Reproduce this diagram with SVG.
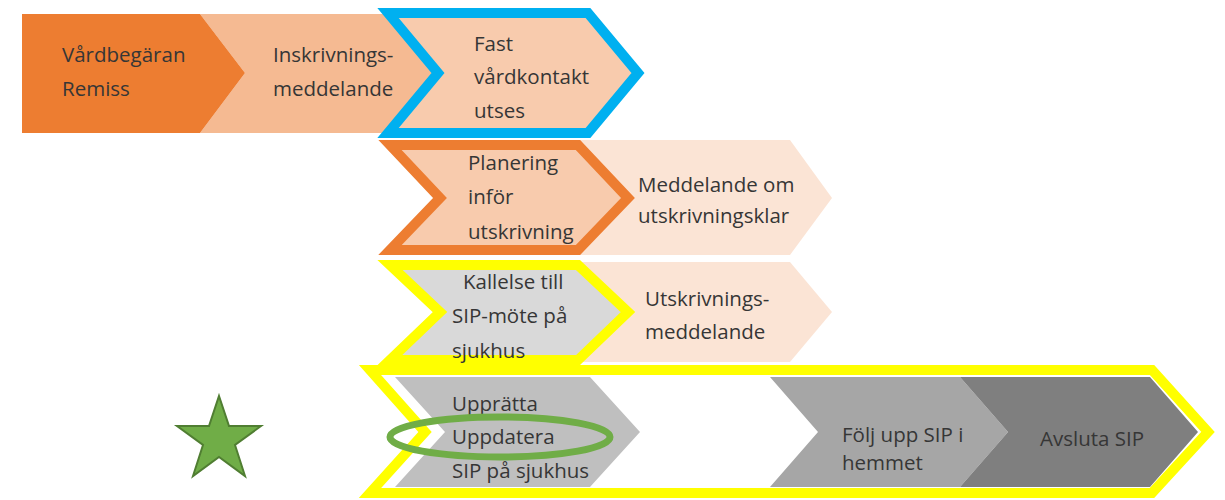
<svg xmlns="http://www.w3.org/2000/svg" width="1225" height="500" viewBox="0 0 1225 500">
<style>
text{font-family:"Open Sans","Liberation Sans",sans-serif;font-size:20.5px;fill:#363636}
.hl{stroke-width:10;stroke-linejoin:miter;stroke-miterlimit:10}
</style>
<rect width="1225" height="500" fill="#ffffff"/>
<g id="n-inskrivning">
<polygon points="200,14 400,14 445,73 400,133 200,133 245,73" fill="#F5BA92"/>
<text x="273" y="62">Inskrivnings-</text>
<text x="273" y="96">meddelande</text>
</g>
<g id="n-vardbegaran">
<polygon points="22,14 200,14 245,73 200,133 22,133" fill="#ED7D31"/>
<text x="62" y="62">Vårdbegäran</text>
<text x="62" y="96">Remiss</text>
</g>
<g id="n-fast">
<polygon class="hl" points="388,13 588,13 638,73 588,133 388,133 438,73" fill="#F8CBAD" stroke="#00B0F0"/>
<text x="474" y="51">Fast</text>
<text x="474" y="84">vårdkontakt</text>
<text x="474" y="118">utses</text>
</g>
<g id="n-meddelande-klar">
<polygon points="580,140 790,140 832,198 790,255 580,255" fill="#FBE4D5"/>
<text x="638" y="192">Meddelande om</text>
<text x="638" y="223">utskrivningsklar</text>
</g>
<g id="n-planering">
<polygon class="hl" points="390,145 578,145 628,198 578,250 390,250 440,198" fill="#F8CBAD" stroke="#ED7D31"/>
<text x="468" y="170">Planering</text>
<text x="468" y="204">inför</text>
<text x="468" y="239">utskrivning</text>
</g>
<g id="n-utskrivning">
<polygon points="580,262 790,262 832,312 790,362 580,362" fill="#FBE4D5"/>
<text x="645" y="306">Utskrivnings-</text>
<text x="645" y="339">meddelande</text>
</g>
<g id="n-kallelse">
<polygon class="hl" points="390,265 578,265 628,312 578,360 390,360 440,312" fill="#D9D9D9" stroke="#FFFF00"/>
<text x="463" y="289">Kallelse till</text>
<text x="452" y="323">SIP-möte på</text>
<text x="452" y="358">sjukhus</text>
</g>
<g id="n-sip-group">
<polygon class="hl" points="370,370 1152,370 1208,432 1152,493 370,493 425,432" fill="#ffffff" stroke="#FFFF00"/>
</g>
<g id="n-upprata">
<polygon points="395,377 590,377 640,432 590,487 395,487 445,432" fill="#BFBFBF"/>
<text x="452" y="411">Upprätta</text>
<text x="452" y="444">Uppdatera</text>
<text x="452" y="478">SIP på sjukhus</text>
</g>
<g id="n-folj">
<polygon points="770,377 960,377 1008,432 960,487 770,487 818,432" fill="#A6A6A6"/>
<text x="842" y="442">Följ upp SIP i</text>
<text x="842" y="470">hemmet</text>
</g>
<g id="n-avsluta">
<polygon points="960,377 1150,377 1198,432 1150,487 960,487 1008,432" fill="#7F7F7F"/>
<text x="1040" y="446">Avsluta SIP</text>
</g>
<g id="n-ellipse">
<ellipse cx="500" cy="437" rx="110" ry="20" fill="none" stroke="#70AD47" stroke-width="7"/>
</g>
<g id="n-star">
<polygon points="219,396 229,426 261,426 235,445 245,476 219,457 193,476 203,445 177,426 209,426" fill="#70AD47" stroke="#507E32" stroke-width="2"/>
</g>
<g id="connectors"></g>
</svg>
